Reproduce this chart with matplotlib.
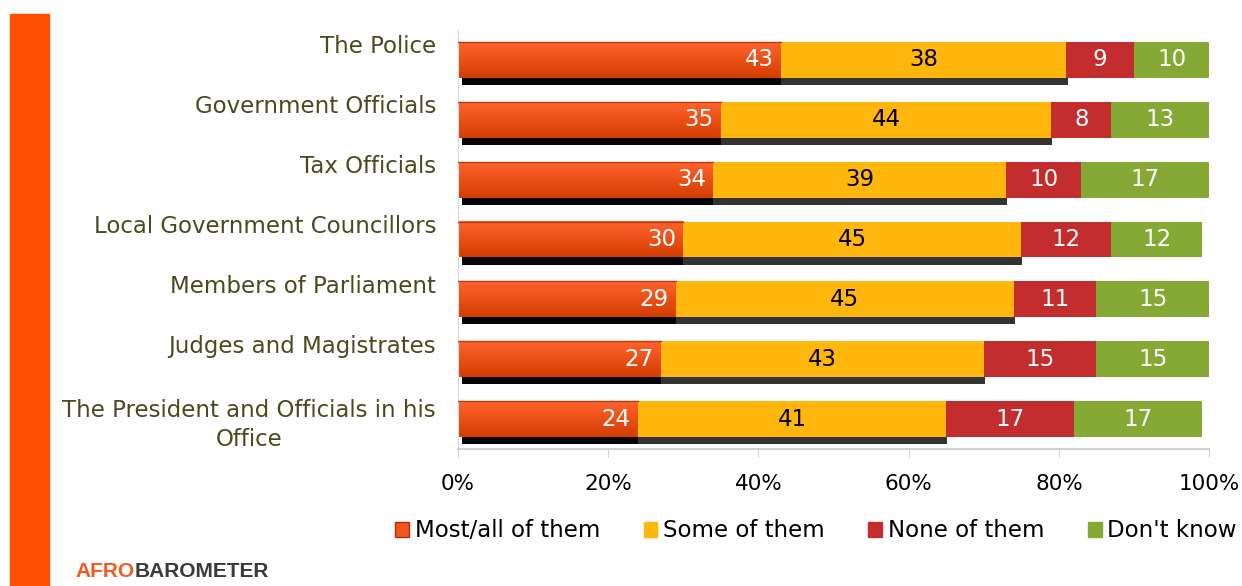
import numpy as np
import matplotlib.pyplot as plt
from matplotlib.patches import Rectangle
from matplotlib.transforms import blended_transform_factory

plt.rcParams['font.family'] = ['DejaVu Sans']

categories = ["The Police", "Government Officials", "Tax Officials",
              "Local Government Councillors", "Members of Parliament",
              "Judges and Magistrates",
              "The President and Officials in his\nOffice"]
most_all = [43, 35, 34, 30, 29, 27, 24]
some = [38, 44, 39, 45, 45, 43, 41]
none = [9, 8, 10, 12, 11, 15, 17]
dont_know = [10, 13, 17, 12, 15, 15, 17]

series_names = ["Most/all of them", "Some of them", "None of them", "Don't know"]
colors = ["#F2561E", "#FFB60D", "#C42D2E", "#86A834"]
text_colors = ["white", "black", "white", "white"]
xticks = [0, 20, 40, 60, 80, 100]

fig = plt.figure(figsize=(12.42, 5.86), dpi=100)
ax = fig.add_axes([0.3688, 0.2338, 0.6047, 0.7150])

y = np.arange(len(categories))
h = 0.6
shadow_dy = 0.12

# orange gradient, light at the top of each bar
grad = np.linspace(0, 1, 64).reshape(-1, 1)
top_c = np.array([1.0, 0.39, 0.18])
bot_c = np.array([0.83, 0.24, 0.0])
grad_img = (top_c + (bot_c - top_c) * grad[..., None]).reshape(64, 1, 3)

data = [most_all, some, none, dont_know]
for i in range(len(categories)):
    a, b = most_all[i], some[i]
    # drop shadows under the first two segments
    ax.add_patch(Rectangle((0.5, y[i] - h / 2 + shadow_dy), a - 0.5, h,
                           color="#050505", zorder=1, lw=0))
    ax.add_patch(Rectangle((a, y[i] - h / 2 + shadow_dy), b + 0.15, h,
                           color="#333333", zorder=1, lw=0))

    left = 0
    for k, vals in enumerate(data):
        v = vals[i]
        if k == 0:
            ax.imshow(grad_img, extent=[left, left + v, y[i] + h / 2, y[i] - h / 2],
                      aspect='auto', zorder=2, interpolation='bilinear')
            ax.plot([left, left + v], [y[i] - h / 2, y[i] - h / 2],
                    color="#C03A0A", lw=1, zorder=3)
            ax.text(left + v - 1.0, y[i], str(v), ha='right', va='center',
                    color=text_colors[k], fontsize=16.5, zorder=4)
        else:
            ax.barh(y[i], v, left=left, height=h, color=colors[k], zorder=2, lw=0)
            ax.text(left + v / 2, y[i], str(v), ha='center', va='center',
                    color=text_colors[k], fontsize=16.5, zorder=4)
        left += v

ax.set_xlim(0, 100)
ax.set_ylim(len(categories) - 0.5, -0.5)
ax.set_xticks(xticks)
ax.set_xticklabels([f"{t}%" for t in xticks], fontsize=15.5)
ax.set_yticks([])
ax.tick_params(axis='x', direction='out', length=6, color="#D0D0D0", pad=12)

# category names sit level with the top of each bar
trans = blended_transform_factory(ax.transAxes, ax.transData)
for i, name in enumerate(categories):
    off = 0.08 if "\n" in name else 0.0
    ax.text(-0.0293, y[i] - 0.41 + off, name, transform=trans, ha='right', va='top',
            multialignment='center', linespacing=1.3, fontsize=16.5, color="#4A4A1E")

for s in ["top", "right"]:
    ax.spines[s].set_visible(False)
ax.spines["left"].set_color("#D9D9D9")
ax.spines["bottom"].set_color("#D0D0D0")
ax.spines["bottom"].set_linewidth(1.5)

# legend
handles = [Rectangle((0, 0), 1, 1, facecolor=c, edgecolor=("#B03000" if k == 0 else c))
           for k, c in enumerate(colors)]
fig.legend(handles, series_names, loc='center', bbox_to_anchor=(0.657, 0.094),
           ncol=4, frameon=False, fontsize=16.5, handlelength=0.6, handleheight=0.6,
           handletextpad=0.25, columnspacing=1.9)

# orange strip down the left edge
fig.patches.append(Rectangle((10 / 1242, 0), 39 / 1242, 1 - 14 / 586,
                             transform=fig.transFigure, color="#FF5000", zorder=0))

# logo text
afro = fig.text(0.061, 0.024, "AFRO", color="#F25A22", fontsize=15,
                fontweight='bold', family='Liberation Sans', va='center', ha='left')
fig.canvas.draw()
bb = afro.get_window_extent()
fig.text(bb.x1 / fig.bbox.width, 0.024, "BAROMETER", color="#3A3A3A", fontsize=15,
         fontweight='bold', family='Liberation Sans', va='center', ha='left')

fig.savefig("out.png", dpi=100)
